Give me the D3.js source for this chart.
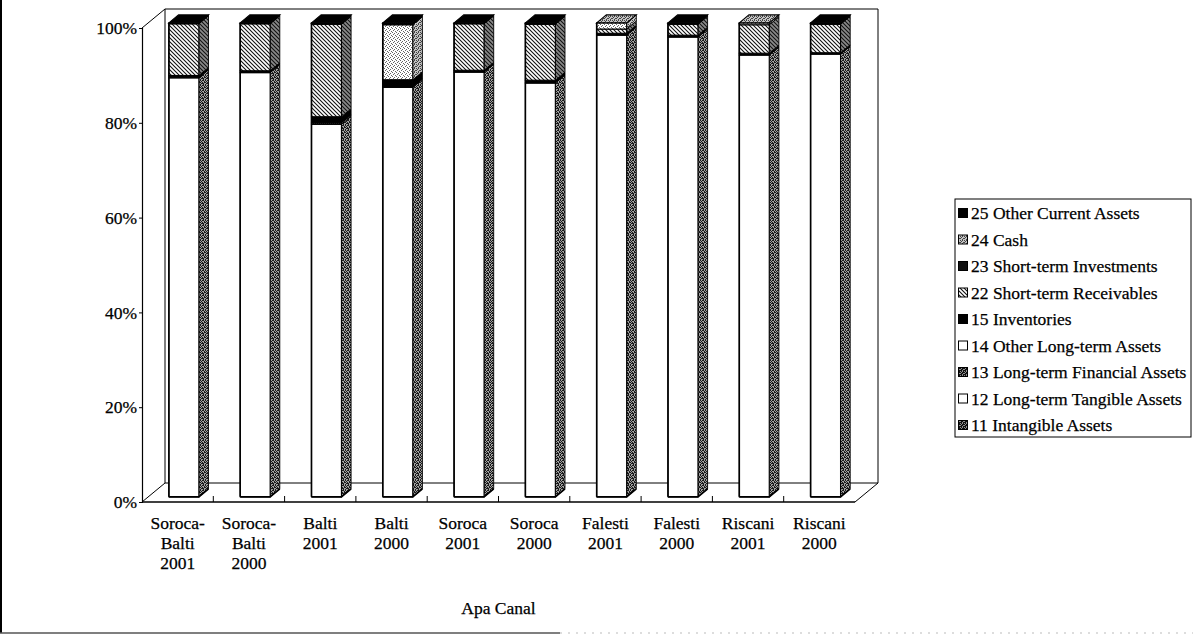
<!DOCTYPE html>
<html>
<head>
<meta charset="utf-8">
<script src="https://cdn.jsdelivr.net/npm/d3@7"></script>
<style>
  body { margin: 0; background: #fff; }
  svg { display: block; }
  text { font-family: "Liberation Serif", "Times New Roman", serif; fill: #000; stroke: #000; stroke-width: 0.25; }
</style>
</head>
<body>
<svg id="chart" width="1193" height="636"></svg>
<script>
// ---- Data: asset structure (% of total assets), Apa Canal companies ----
const categories = ["Soroca-Balti 2001", "Soroca-Balti 2000", "Balti 2001", "Balti 2000",
  "Soroca 2001", "Soroca 2000", "Falesti 2001", "Falesti 2000", "Riscani 2001", "Riscani 2000"];
const categoryLines = [["Soroca-", "Balti", "2001"], ["Soroca-", "Balti", "2000"],
  ["Balti", "2001"], ["Balti", "2000"], ["Soroca", "2001"], ["Soroca", "2000"],
  ["Falesti", "2001"], ["Falesti", "2000"], ["Riscani", "2001"], ["Riscani", "2000"]];

const seriesKeys = ["11 Intangible Assets", "12 Long-term Tangible Assets",
  "13 Long-term Financial Assets", "14 Other Long-term Assets", "15 Inventories",
  "22 Short-term Receivables", "23 Short-term Investments", "24 Cash", "25 Other Current Assets"];

const intangibleAssets     = [0, 0, 0, 0, 0, 0, 0, 0, 0, 0];
const longTermTangible     = [88.4, 89.5, 78.6, 86.4, 89.6, 87.3, 97.4, 97.0, 93.2, 93.4];
const longTermFinancial    = [0, 0, 0.3, 0, 0, 0, 0, 0, 0, 0];
const otherLongTerm        = [0, 0, 0, 0, 0, 0, 0, 0, 0, 0];
const inventories          = [0.5, 0.4, 1.3, 1.6, 0.4, 0.6, 0.4, 0.4, 0.4, 0.3];
const shortTermReceivables = [10.9, 9.9, 19.5, 0, 9.8, 11.8, 0.9, 2.3, 6.0, 6.0];
const shortTermInvestments = [0, 0, 0, 0, 0, 0, 0, 0, 0, 0];
const cash                 = [0, 0, 0, 11.6, 0, 0, 1.3, 0, 0.4, 0];
const otherCurrentAssets   = [0.2, 0.2, 0.3, 0.4, 0.2, 0.3, 0, 0.3, 0, 0.3];

const seriesValues = [intangibleAssets, longTermTangible, longTermFinancial, otherLongTerm,
  inventories, shortTermReceivables, shortTermInvestments, cash, otherCurrentAssets];

const yTicks = [0, 0.2, 0.4, 0.6, 0.8, 1.0];
const xTitle = "Apa Canal";

// ---- Layout ----
const svg = d3.select("#chart");
const W = 1193, H = 636;
const plotLeft = 142, plotRight = 855, floorY = 502, topY = 28;
const depthX = 23, depthY = -19;       // full depth of the 3D box
const barZ0 = 0.27, barZ1 = 0.69;       // bar front/back position inside the depth
const fontSize = "17.5px";

const x = d3.scaleBand().domain(categories).range([plotLeft, plotRight])
  .paddingInner(0.58).paddingOuter(0.29);
const step = x.step();
const y = d3.scaleLinear().domain([0, 1]).range([floorY, topY]);

// ---- Fill patterns ----
const defs = svg.append("defs");
function pixelPattern(id, bg, fg, rows) {
  const n = rows.length, m = rows[0].length;
  const p = defs.append("pattern").attr("id", id).attr("patternUnits", "userSpaceOnUse")
    .attr("width", m).attr("height", n);
  p.append("rect").attr("width", m).attr("height", n).attr("fill", bg);
  rows.forEach((r, j) => r.split("").forEach((c, i) => {
    if (c === "1") p.append("rect").attr("x", i).attr("y", j).attr("width", 1).attr("height", 1)
      .attr("fill", fg).attr("shape-rendering", "crispEdges");
  }));
}
pixelPattern("sideGray", "#a0a0a0", "#1a1a1a", ["10110", "01001", "10101", "01110", "10010"]);
pixelPattern("darkGray", "#909090", "#111", ["1011", "0110", "1101", "0101"]);
pixelPattern("cashFill", "#fff", "#666", ["1000", "0010", "0100", "0001"]);
pixelPattern("cashSide", "#c4c4c4", "#444", ["1010", "0100", "1001", "0010"]);

function hatchPattern(id, bg, stroke) {
  const p = defs.append("pattern").attr("id", id).attr("patternUnits", "userSpaceOnUse")
    .attr("width", 4).attr("height", 4);
  p.append("rect").attr("width", 4).attr("height", 4).attr("fill", bg);
  p.append("path").attr("d", "M-1,-1 L5,5 M-1,3 L1,5 M3,-1 L5,1")
    .attr("stroke", stroke).attr("stroke-width", 1.1);
}
hatchPattern("hatchFill", "#fff", "#111");
hatchPattern("hatchSide", "#8a8a8a", "#111");

// Fills per series: front face, side face, top face
const styles = {
  "11 Intangible Assets":          { front: "url(#darkGray)", side: "url(#darkGray)", top: "url(#darkGray)", swatch: "url(#darkGray)" },
  "12 Long-term Tangible Assets":  { front: "#fff", side: "url(#sideGray)", top: "url(#sideGray)", swatch: "#fff" },
  "13 Long-term Financial Assets": { front: "url(#darkGray)", side: "url(#darkGray)", top: "url(#darkGray)", swatch: "url(#darkGray)" },
  "14 Other Long-term Assets":     { front: "#fff", side: "url(#sideGray)", top: "url(#sideGray)", swatch: "#fff" },
  "15 Inventories":                { front: "#000", side: "#000", top: "#000", swatch: "#000" },
  "22 Short-term Receivables":     { front: "url(#hatchFill)", side: "url(#hatchSide)", top: "url(#hatchSide)", swatch: "url(#hatchFill)" },
  "23 Short-term Investments":     { front: "#000", side: "#000", top: "#000", swatch: "#111" },
  "24 Cash":                       { front: "url(#cashFill)", side: "url(#cashSide)", top: "url(#cashSide)", swatch: "url(#cashSide)" },
  "25 Other Current Assets":       { front: "#000", side: "#000", top: "#000", swatch: "#000" }
};

// ---- 3D frame: back wall, floor, y axis ----
const frame = svg.append("g").attr("fill", "none").attr("stroke", "#000").attr("stroke-width", 1);
const bx0 = plotLeft + depthX, bx1 = plotRight + depthX;
frame.append("path").attr("d",
  `M${bx0},${floorY + depthY} L${bx0},${topY + depthY} L${bx1},${topY + depthY} L${bx1},${floorY + depthY} L${bx0},${floorY + depthY}`);
frame.append("path").attr("d", `M${plotLeft},${topY} L${bx0},${topY + depthY}`);
frame.append("path").attr("d", `M${plotLeft},${floorY} L${bx0},${floorY + depthY}`);
frame.append("path").attr("d", `M${plotRight},${floorY} L${bx1},${floorY + depthY}`);
frame.append("path").attr("d", `M${plotLeft},${floorY} L${plotRight},${floorY}`).attr("stroke-width", 1.4);

// y axis
const yAxis = d3.axisLeft(y).tickValues(yTicks).tickFormat(d3.format(".0%")).tickSize(3).tickPadding(2);
const yg = svg.append("g").attr("transform", `translate(${plotLeft},0)`).call(yAxis);
yg.select(".domain").attr("stroke-width", 1.2);
yg.selectAll("text").style("font-family", '"Liberation Serif", serif').style("font-size", fontSize)
  .attr("stroke", "#000").attr("stroke-width", 0.25);

// x ticks at category boundaries on the front floor edge
const boundaries = categories.slice(1).map(c => x(c) - (step - x.bandwidth()) / 2);
svg.append("g").selectAll("line").data(boundaries).join("line")
  .attr("x1", d => d).attr("x2", d => d).attr("y1", floorY).attr("y2", floorY - 6)
  .attr("stroke", "#000").attr("stroke-width", 1);

// ---- Stacked 3D bars ----
const rows = categories.map((c, i) => {
  const r = { cat: c };
  seriesKeys.forEach((k, s) => r[k] = seriesValues[s][i]);
  return r;
});
const stacked = d3.stack().keys(seriesKeys).offset(d3.stackOffsetExpand)(rows);

const bw = x.bandwidth();
const dzx = depthX * (barZ1 - barZ0), dzy = depthY * (barZ1 - barZ0);
const barsG = svg.append("g");

categories.forEach((c, ci) => {
  const g = barsG.append("g");
  const fx0 = x(c) + depthX * barZ0, fx1 = fx0 + bw;
  const fy = v => y(v) + depthY * barZ0;
  let topLayer = null;
  stacked.forEach(layer => {
    const seg = layer[ci];
    if (seg[1] - seg[0] <= 1e-6) return;
    const st = styles[layer.key];
    const yt = fy(seg[1]), yb = fy(seg[0]);
    g.append("path")
      .attr("d", `M${fx1},${yt} L${fx1 + dzx},${yt + dzy} L${fx1 + dzx},${yb + dzy} L${fx1},${yb} Z`)
      .attr("fill", st.side).attr("stroke", "#000").attr("stroke-width", 0.9);
    g.append("rect").attr("x", fx0).attr("y", yt).attr("width", bw).attr("height", Math.max(0.5, yb - yt))
      .attr("fill", st.front).attr("stroke", "#000").attr("stroke-width", 1.1);
    topLayer = { key: layer.key, v: seg[1] };
  });
  if (topLayer) {
    const yt = fy(topLayer.v);
    g.append("path")
      .attr("d", `M${fx0},${yt} L${fx1},${yt} L${fx1 + dzx},${yt + dzy} L${fx0 + dzx},${yt + dzy} Z`)
      .attr("fill", styles[topLayer.key].top).attr("stroke", "#000").attr("stroke-width", 1.1);
  }
  // outer edges a little heavier, as in the printed chart
  g.append("path")
    .attr("d", `M${fx0},${fy(0)} L${fx0},${fy(topLayer.v)}`)
    .attr("stroke", "#000").attr("stroke-width", 1.6);
  g.append("path")
    .attr("d", `M${fx0},${fy(0)} L${fx1},${fy(0)} L${fx1 + dzx},${fy(0) + dzy}`)
    .attr("fill", "none").attr("stroke", "#000").attr("stroke-width", 1.8);
});

// ---- Category labels ----
const labelG = svg.append("g").attr("text-anchor", "middle").style("font-size", fontSize);
categories.forEach((c, i) => {
  const cx = x(c) + bw / 2;
  const t = labelG.append("text").attr("x", cx).attr("y", 529);
  categoryLines[i].forEach((line, j) => {
    t.append("tspan").attr("x", cx).attr("dy", j === 0 ? 0 : 20).text(line);
  });
});

svg.append("text").attr("x", (plotLeft + plotRight) / 2).attr("y", 614)
  .attr("text-anchor", "middle").style("font-size", fontSize).text(xTitle);

// ---- Legend (top series first) ----
const legendKeys = seriesKeys.slice().reverse();
const legend = svg.append("g");
legend.append("rect").attr("x", 955).attr("y", 199).attr("width", 236).attr("height", 238)
  .attr("fill", "#fff").attr("stroke", "#000").attr("stroke-width", 1);
legendKeys.forEach((k, i) => {
  const cy = 213 + i * 26.5;
  legend.append("rect").attr("x", 958.5).attr("y", cy - 4.5).attr("width", 9).attr("height", 9)
    .attr("fill", styles[k].swatch).attr("stroke", "#000").attr("stroke-width", 1);
  legend.append("text").attr("x", 971).attr("y", cy).attr("dy", "0.35em")
    .style("font-size", fontSize).text(k);
});

// ---- Page border ----
svg.append("line").attr("x1", 1).attr("x2", 1).attr("y1", 0).attr("y2", 633)
  .attr("stroke", "#000").attr("stroke-width", 2);
svg.append("line").attr("x1", 0).attr("x2", 560).attr("y1", 633).attr("y2", 633)
  .attr("stroke", "#555").attr("stroke-width", 1.5);
svg.append("line").attr("x1", 560).attr("x2", W).attr("y1", 633).attr("y2", 633)
  .attr("stroke", "#bbb").attr("stroke-width", 1).attr("stroke-dasharray", "2,6");
</script>
</body>
</html>
